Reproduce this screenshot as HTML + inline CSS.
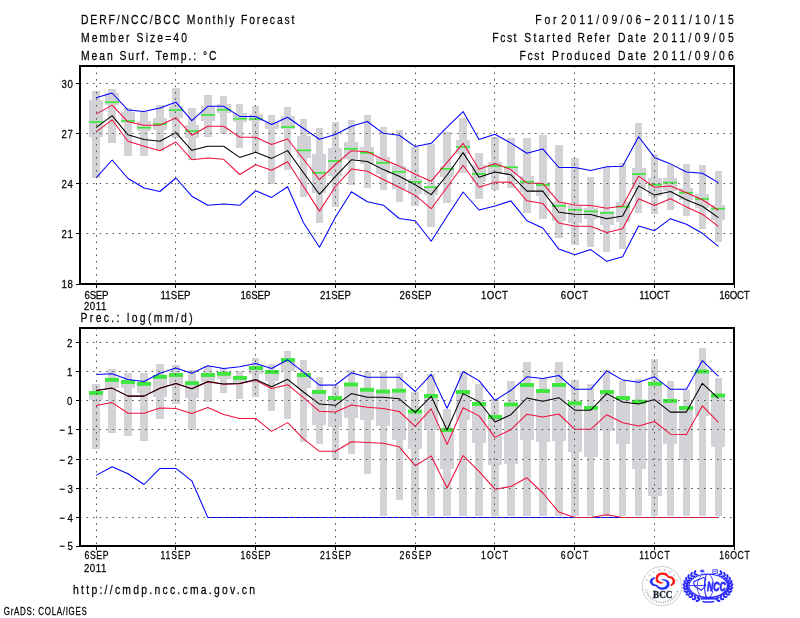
<!DOCTYPE html>
<html><head><meta charset="utf-8"><title>DERF/NCC/BCC Monthly Forecast</title>
<style>html,body{margin:0;padding:0;background:#fff;}body{width:800px;height:618px;overflow:hidden;font-family:"Liberation Sans",sans-serif;}svg{display:block}</style>
</head><body>
<svg width="800" height="618" viewBox="0 0 800 618" font-family="'Liberation Sans', sans-serif" fill="#000">
<rect width="800" height="618" fill="#fff"/>
<rect x="92" y="91" width="8" height="87" fill="#d3d3d7"/>
<rect x="89" y="100" width="14" height="37" fill="#d3d3d7"/>
<rect x="108" y="89" width="8" height="54" fill="#d3d3d7"/>
<rect x="105" y="93" width="14" height="12" fill="#d3d3d7"/>
<rect x="124" y="108" width="8" height="48" fill="#d3d3d7"/>
<rect x="121" y="112" width="14" height="11" fill="#d3d3d7"/>
<rect x="140" y="112" width="8" height="44" fill="#d3d3d7"/>
<rect x="137" y="121" width="14" height="10" fill="#d3d3d7"/>
<rect x="156" y="105" width="8" height="46" fill="#d3d3d7"/>
<rect x="153" y="118" width="14" height="12" fill="#d3d3d7"/>
<rect x="172" y="88" width="8" height="50" fill="#d3d3d7"/>
<rect x="169" y="106" width="14" height="12" fill="#d3d3d7"/>
<rect x="188" y="108" width="8" height="52" fill="#d3d3d7"/>
<rect x="185" y="125" width="14" height="13" fill="#d3d3d7"/>
<rect x="204" y="95" width="8" height="42" fill="#d3d3d7"/>
<rect x="201" y="106" width="14" height="15" fill="#d3d3d7"/>
<rect x="220" y="96" width="7" height="38" fill="#d3d3d7"/>
<rect x="217" y="104" width="14" height="9" fill="#d3d3d7"/>
<rect x="236" y="104" width="7" height="44" fill="#d3d3d7"/>
<rect x="233" y="113" width="14" height="9" fill="#d3d3d7"/>
<rect x="252" y="106" width="7" height="46" fill="#d3d3d7"/>
<rect x="249" y="114" width="14" height="7" fill="#d3d3d7"/>
<rect x="268" y="115" width="7" height="69" fill="#d3d3d7"/>
<rect x="265" y="122" width="14" height="7" fill="#d3d3d7"/>
<rect x="284" y="107" width="7" height="63" fill="#d3d3d7"/>
<rect x="281" y="116" width="14" height="13" fill="#d3d3d7"/>
<rect x="300" y="119" width="7" height="78" fill="#d3d3d7"/>
<rect x="297" y="136" width="14" height="22" fill="#d3d3d7"/>
<rect x="316" y="128" width="7" height="95" fill="#d3d3d7"/>
<rect x="312" y="154" width="14" height="39" fill="#d3d3d7"/>
<rect x="332" y="122" width="7" height="85" fill="#d3d3d7"/>
<rect x="328" y="148" width="14" height="28" fill="#d3d3d7"/>
<rect x="348" y="120" width="7" height="65" fill="#d3d3d7"/>
<rect x="344" y="142" width="14" height="17" fill="#d3d3d7"/>
<rect x="364" y="115" width="7" height="73" fill="#d3d3d7"/>
<rect x="360" y="147" width="14" height="17" fill="#d3d3d7"/>
<rect x="380" y="127" width="7" height="63" fill="#d3d3d7"/>
<rect x="376" y="157" width="14" height="17" fill="#d3d3d7"/>
<rect x="396" y="130" width="7" height="72" fill="#d3d3d7"/>
<rect x="392" y="166" width="14" height="23" fill="#d3d3d7"/>
<rect x="411" y="147" width="8" height="59" fill="#d3d3d7"/>
<rect x="408" y="179" width="14" height="15" fill="#d3d3d7"/>
<rect x="427" y="144" width="8" height="83" fill="#d3d3d7"/>
<rect x="424" y="186" width="14" height="9" fill="#d3d3d7"/>
<rect x="443" y="132" width="8" height="71" fill="#d3d3d7"/>
<rect x="440" y="166" width="14" height="11" fill="#d3d3d7"/>
<rect x="459" y="118" width="8" height="55" fill="#d3d3d7"/>
<rect x="456" y="140" width="14" height="14" fill="#d3d3d7"/>
<rect x="475" y="153" width="8" height="46" fill="#d3d3d7"/>
<rect x="472" y="165" width="14" height="17" fill="#d3d3d7"/>
<rect x="491" y="137" width="8" height="53" fill="#d3d3d7"/>
<rect x="488" y="162" width="14" height="12" fill="#d3d3d7"/>
<rect x="507" y="138" width="8" height="50" fill="#d3d3d7"/>
<rect x="504" y="166" width="14" height="9" fill="#d3d3d7"/>
<rect x="523" y="138" width="8" height="75" fill="#d3d3d7"/>
<rect x="520" y="176" width="14" height="16" fill="#d3d3d7"/>
<rect x="539" y="135" width="8" height="84" fill="#d3d3d7"/>
<rect x="536" y="182" width="14" height="14" fill="#d3d3d7"/>
<rect x="555" y="145" width="8" height="93" fill="#d3d3d7"/>
<rect x="552" y="202" width="14" height="19" fill="#d3d3d7"/>
<rect x="571" y="158" width="8" height="87" fill="#d3d3d7"/>
<rect x="568" y="205" width="14" height="18" fill="#d3d3d7"/>
<rect x="587" y="177" width="7" height="70" fill="#d3d3d7"/>
<rect x="584" y="208" width="14" height="11" fill="#d3d3d7"/>
<rect x="603" y="167" width="7" height="85" fill="#d3d3d7"/>
<rect x="600" y="211" width="14" height="14" fill="#d3d3d7"/>
<rect x="619" y="163" width="7" height="86" fill="#d3d3d7"/>
<rect x="616" y="202" width="14" height="20" fill="#d3d3d7"/>
<rect x="635" y="123" width="7" height="90" fill="#d3d3d7"/>
<rect x="632" y="168" width="14" height="21" fill="#d3d3d7"/>
<rect x="651" y="154" width="7" height="60" fill="#d3d3d7"/>
<rect x="648" y="178" width="14" height="18" fill="#d3d3d7"/>
<rect x="667" y="165" width="7" height="45" fill="#d3d3d7"/>
<rect x="663" y="178" width="14" height="13" fill="#d3d3d7"/>
<rect x="683" y="164" width="7" height="52" fill="#d3d3d7"/>
<rect x="679" y="188" width="14" height="12" fill="#d3d3d7"/>
<rect x="699" y="165" width="7" height="64" fill="#d3d3d7"/>
<rect x="695" y="194" width="14" height="14" fill="#d3d3d7"/>
<rect x="715" y="171" width="7" height="71" fill="#d3d3d7"/>
<rect x="711" y="205" width="14" height="15" fill="#d3d3d7"/>
<rect x="89" y="121.15" width="14" height="1.7" fill="#3ee63e"/>
<rect x="105" y="101.35" width="14" height="1.7" fill="#3ee63e"/>
<rect x="121" y="120.15" width="14" height="1.7" fill="#3ee63e"/>
<rect x="137" y="126.85" width="14" height="1.7" fill="#3ee63e"/>
<rect x="153" y="123.25" width="14" height="1.7" fill="#3ee63e"/>
<rect x="169" y="109.15" width="14" height="1.7" fill="#3ee63e"/>
<rect x="185" y="130.15" width="14" height="1.7" fill="#3ee63e"/>
<rect x="201" y="114.05" width="14" height="1.7" fill="#3ee63e"/>
<rect x="217" y="108.95" width="14" height="1.7" fill="#3ee63e"/>
<rect x="233" y="117.85" width="14" height="1.7" fill="#3ee63e"/>
<rect x="249" y="118.15" width="14" height="1.7" fill="#3ee63e"/>
<rect x="281" y="126.15" width="14" height="1.7" fill="#3ee63e"/>
<rect x="297" y="149.55" width="14" height="1.7" fill="#3ee63e"/>
<rect x="312" y="171.95" width="14" height="1.7" fill="#3ee63e"/>
<rect x="328" y="160.15" width="14" height="1.7" fill="#3ee63e"/>
<rect x="344" y="147.95" width="14" height="1.7" fill="#3ee63e"/>
<rect x="360" y="151.95" width="14" height="1.7" fill="#3ee63e"/>
<rect x="376" y="161.95" width="14" height="1.7" fill="#3ee63e"/>
<rect x="392" y="170.95" width="14" height="1.7" fill="#3ee63e"/>
<rect x="408" y="181.05" width="14" height="1.7" fill="#3ee63e"/>
<rect x="424" y="186.35" width="14" height="1.7" fill="#3ee63e"/>
<rect x="440" y="168.05" width="14" height="1.7" fill="#3ee63e"/>
<rect x="456" y="146.05" width="14" height="1.7" fill="#3ee63e"/>
<rect x="472" y="173.05" width="14" height="1.7" fill="#3ee63e"/>
<rect x="488" y="165.15" width="14" height="1.7" fill="#3ee63e"/>
<rect x="504" y="166.35" width="14" height="1.7" fill="#3ee63e"/>
<rect x="520" y="180.95" width="14" height="1.7" fill="#3ee63e"/>
<rect x="536" y="184.15" width="14" height="1.7" fill="#3ee63e"/>
<rect x="552" y="204.95" width="14" height="1.7" fill="#3ee63e"/>
<rect x="568" y="208.95" width="14" height="1.7" fill="#3ee63e"/>
<rect x="584" y="210.55" width="14" height="1.7" fill="#3ee63e"/>
<rect x="600" y="212.15" width="14" height="1.7" fill="#3ee63e"/>
<rect x="616" y="205.85" width="14" height="1.7" fill="#3ee63e"/>
<rect x="632" y="173.25" width="14" height="1.7" fill="#3ee63e"/>
<rect x="648" y="183.85" width="14" height="1.7" fill="#3ee63e"/>
<rect x="663" y="181.75" width="14" height="1.7" fill="#3ee63e"/>
<rect x="679" y="191.85" width="14" height="1.7" fill="#3ee63e"/>
<rect x="695" y="198.05" width="14" height="1.7" fill="#3ee63e"/>
<rect x="711" y="207.85" width="14" height="1.7" fill="#3ee63e"/>
<polyline points="96.1,177.8 112.1,160.0 128.0,178.5 144.0,188.0 159.9,191.5 175.9,178.0 191.8,196.2 207.8,205.3 223.7,204.0 239.7,205.3 255.7,190.7 271.6,197.4 287.6,186.8 303.5,222.8 319.5,247.2 335.4,217.2 351.4,191.7 367.3,201.7 383.3,205.2 399.2,218.5 415.2,220.7 431.2,241.2 447.1,216.3 463.1,192.0 479.0,210.0 495.0,206.0 510.9,200.8 526.9,220.7 542.8,228.0 558.8,249.1 574.8,254.8 590.7,249.6 606.7,261.3 622.6,256.7 638.6,226.0 654.5,230.7 670.5,218.7 686.4,224.2 702.4,233.3 718.4,246.3" fill="none" stroke="#0000ff" stroke-width="1.05" stroke-linejoin="round"/>
<polyline points="96.1,97.7 112.1,93.0 128.0,110.1 144.0,111.5 159.9,108.1 175.9,102.2 191.8,120.7 207.8,106.3 223.7,106.3 239.7,116.4 255.7,116.5 271.6,124.5 287.6,117.2 303.5,128.5 319.5,139.3 335.4,134.5 351.4,126.3 367.3,121.5 383.3,133.3 399.2,135.2 415.2,146.6 431.2,143.3 447.1,127.1 463.1,111.6 479.0,139.6 495.0,134.3 510.9,143.1 526.9,153.3 542.8,148.9 558.8,167.5 574.8,167.5 590.7,170.4 606.7,166.8 622.6,166.3 638.6,136.7 654.5,157.4 670.5,163.9 686.4,172.0 702.4,173.3 718.4,182.6" fill="none" stroke="#0000ff" stroke-width="1.05" stroke-linejoin="round"/>
<polyline points="96.1,131.8 112.1,119.8 128.0,141.2 144.0,146.3 159.9,150.7 175.9,142.0 191.8,159.7 207.8,158.0 223.7,159.3 239.7,174.5 255.7,164.7 271.6,170.3 287.6,161.7 303.5,186.5 319.5,211.1 335.4,186.5 351.4,169.1 367.3,171.2 383.3,179.5 399.2,187.2 415.2,195.4 431.2,208.7 447.1,187.2 463.1,165.3 479.0,187.2 495.0,182.2 510.9,182.1 526.9,200.8 542.8,203.4 558.8,223.1 574.8,226.3 590.7,226.3 606.7,232.4 622.6,228.8 638.6,198.8 654.5,205.5 670.5,198.8 686.4,206.9 702.4,214.2 718.4,226.3" fill="none" stroke="#f0103c" stroke-width="1.05" stroke-linejoin="round"/>
<polyline points="96.1,114.1 112.1,105.1 128.0,121.8 144.0,125.2 159.9,125.2 175.9,117.8 191.8,135.2 207.8,126.3 223.7,126.3 239.7,137.3 255.7,137.3 271.6,144.4 287.6,139.0 303.5,159.3 319.5,179.7 335.4,164.5 351.4,150.7 367.3,151.7 383.3,159.5 399.2,166.1 415.2,174.2 431.2,181.2 447.1,162.4 463.1,143.3 479.0,169.3 495.0,163.6 510.9,169.6 526.9,183.1 542.8,183.4 558.8,202.1 574.8,204.9 590.7,205.4 606.7,208.2 622.6,206.1 638.6,176.1 654.5,187.2 670.5,185.9 686.4,192.7 702.4,199.7 718.4,210.3" fill="none" stroke="#f0103c" stroke-width="1.05" stroke-linejoin="round"/>
<polyline points="96.1,127.6 112.1,115.7 128.0,134.8 144.0,139.6 159.9,141.2 175.9,132.6 191.8,150.3 207.8,146.2 223.7,146.2 239.7,157.4 255.7,152.3 271.6,158.4 287.6,150.6 303.5,172.7 319.5,194.3 335.4,176.4 351.4,159.8 367.3,161.5 383.3,169.6 399.2,176.3 415.2,184.8 431.2,194.6 447.1,175.0 463.1,152.6 479.0,177.2 495.0,171.9 510.9,174.8 526.9,191.1 542.8,191.1 558.8,212.2 574.8,214.2 590.7,214.4 606.7,218.8 622.6,216.0 638.6,185.9 654.5,195.1 670.5,191.5 686.4,199.7 702.4,206.2 718.4,217.6" fill="none" stroke="#000000" stroke-width="1.05" stroke-linejoin="round"/>
<g stroke="#555" stroke-width="1" stroke-dasharray="1.6 4.9" fill="none"><line x1="96.5" y1="66" x2="96.5" y2="284"/><line x1="175.5" y1="66" x2="175.5" y2="284"/><line x1="255.5" y1="66" x2="255.5" y2="284"/><line x1="335.5" y1="66" x2="335.5" y2="284"/><line x1="415.5" y1="66" x2="415.5" y2="284"/><line x1="494.5" y1="66" x2="494.5" y2="284"/><line x1="574.5" y1="66" x2="574.5" y2="284"/><line x1="654.5" y1="66" x2="654.5" y2="284"/><line x1="80" y1="83.5" x2="734" y2="83.5"/><line x1="80" y1="133.5" x2="734" y2="133.5"/><line x1="80" y1="183.5" x2="734" y2="183.5"/><line x1="80" y1="233.5" x2="734" y2="233.5"/></g>
<rect x="80" y="66" width="654" height="218" fill="none" stroke="#000" stroke-width="2"/>
<g style="opacity:0.999"><line x1="76" y1="83.5" x2="80" y2="83.5" stroke="#000" stroke-width="1"/><text transform="translate(61.4 87.9) scale(0.82 1)" font-size="11.8" textLength="13.9" lengthAdjust="spacing" stroke="#000" stroke-width="0.25">30</text><line x1="76" y1="133.5" x2="80" y2="133.5" stroke="#000" stroke-width="1"/><text transform="translate(61.4 137.9) scale(0.82 1)" font-size="11.8" textLength="13.9" lengthAdjust="spacing" stroke="#000" stroke-width="0.25">27</text><line x1="76" y1="183.5" x2="80" y2="183.5" stroke="#000" stroke-width="1"/><text transform="translate(61.4 187.9) scale(0.82 1)" font-size="11.8" textLength="13.9" lengthAdjust="spacing" stroke="#000" stroke-width="0.25">24</text><line x1="76" y1="233.5" x2="80" y2="233.5" stroke="#000" stroke-width="1"/><text transform="translate(61.4 237.9) scale(0.82 1)" font-size="11.8" textLength="13.9" lengthAdjust="spacing" stroke="#000" stroke-width="0.25">21</text><line x1="76" y1="284.5" x2="80" y2="284.5" stroke="#000" stroke-width="1"/><text transform="translate(61.4 288.4) scale(0.82 1)" font-size="11.8" textLength="13.9" lengthAdjust="spacing" stroke="#000" stroke-width="0.25">18</text><line x1="96.5" y1="284" x2="96.5" y2="288" stroke="#000" stroke-width="1"/><text transform="translate(84.5 298.8) scale(0.82 1)" font-size="11.8" textLength="29.3" lengthAdjust="spacing" stroke="#000" stroke-width="0.25">6SEP</text><line x1="175.5" y1="284" x2="175.5" y2="288" stroke="#000" stroke-width="1"/><text transform="translate(160.5 298.8) scale(0.82 1)" font-size="11.8" textLength="36.6" lengthAdjust="spacing" stroke="#000" stroke-width="0.25">11SEP</text><line x1="255.5" y1="284" x2="255.5" y2="288" stroke="#000" stroke-width="1"/><text transform="translate(240.5 298.8) scale(0.82 1)" font-size="11.8" textLength="36.6" lengthAdjust="spacing" stroke="#000" stroke-width="0.25">16SEP</text><line x1="335.5" y1="284" x2="335.5" y2="288" stroke="#000" stroke-width="1"/><text transform="translate(320.0 298.8) scale(0.82 1)" font-size="11.8" textLength="37.8" lengthAdjust="spacing" stroke="#000" stroke-width="0.25">21SEP</text><line x1="415.5" y1="284" x2="415.5" y2="288" stroke="#000" stroke-width="1"/><text transform="translate(399.5 298.8) scale(0.82 1)" font-size="11.8" textLength="39.0" lengthAdjust="spacing" stroke="#000" stroke-width="0.25">26SEP</text><line x1="494.5" y1="284" x2="494.5" y2="288" stroke="#000" stroke-width="1"/><text transform="translate(481.0 298.8) scale(0.82 1)" font-size="11.8" textLength="32.9" lengthAdjust="spacing" stroke="#000" stroke-width="0.25">1OCT</text><line x1="574.5" y1="284" x2="574.5" y2="288" stroke="#000" stroke-width="1"/><text transform="translate(560.8 298.8) scale(0.82 1)" font-size="11.8" textLength="33.5" lengthAdjust="spacing" stroke="#000" stroke-width="0.25">6OCT</text><line x1="654.5" y1="284" x2="654.5" y2="288" stroke="#000" stroke-width="1"/><text transform="translate(639.3 298.8) scale(0.82 1)" font-size="11.8" textLength="37.1" lengthAdjust="spacing" stroke="#000" stroke-width="0.25">11OCT</text><line x1="734.5" y1="284" x2="734.5" y2="288" stroke="#000" stroke-width="1"/><text transform="translate(719.3 298.8) scale(0.82 1)" font-size="11.8" textLength="37.1" lengthAdjust="spacing" stroke="#000" stroke-width="0.25">16OCT</text><text transform="translate(83.9 310.0) scale(0.82 1)" font-size="11.8" textLength="27.3" lengthAdjust="spacing" stroke="#000" stroke-width="0.25">2011</text></g>
<rect x="92" y="384" width="8" height="65" fill="#d3d3d7"/>
<rect x="89" y="391" width="14" height="9" fill="#d3d3d7"/>
<rect x="108" y="369" width="8" height="64" fill="#d3d3d7"/>
<rect x="105" y="378" width="14" height="10" fill="#d3d3d7"/>
<rect x="124" y="373" width="8" height="63" fill="#d3d3d7"/>
<rect x="121" y="380" width="14" height="8" fill="#d3d3d7"/>
<rect x="140" y="373" width="8" height="68" fill="#d3d3d7"/>
<rect x="137" y="382" width="14" height="11" fill="#d3d3d7"/>
<rect x="156" y="364" width="8" height="55" fill="#d3d3d7"/>
<rect x="153" y="375" width="14" height="22" fill="#d3d3d7"/>
<rect x="172" y="365" width="8" height="39" fill="#d3d3d7"/>
<rect x="169" y="373" width="14" height="11" fill="#d3d3d7"/>
<rect x="188" y="370" width="8" height="60" fill="#d3d3d7"/>
<rect x="185" y="381" width="14" height="17" fill="#d3d3d7"/>
<rect x="204" y="366" width="8" height="36" fill="#d3d3d7"/>
<rect x="201" y="373" width="14" height="9" fill="#d3d3d7"/>
<rect x="220" y="368" width="7" height="25" fill="#d3d3d7"/>
<rect x="217" y="372" width="14" height="7" fill="#d3d3d7"/>
<rect x="236" y="371" width="7" height="28" fill="#d3d3d7"/>
<rect x="233" y="376" width="14" height="7" fill="#d3d3d7"/>
<rect x="252" y="358" width="7" height="39" fill="#d3d3d7"/>
<rect x="249" y="366" width="14" height="8" fill="#d3d3d7"/>
<rect x="268" y="364" width="7" height="47" fill="#d3d3d7"/>
<rect x="265" y="370" width="14" height="11" fill="#d3d3d7"/>
<rect x="284" y="351" width="7" height="68" fill="#d3d3d7"/>
<rect x="281" y="358" width="14" height="13" fill="#d3d3d7"/>
<rect x="300" y="360" width="7" height="82" fill="#d3d3d7"/>
<rect x="297" y="373" width="14" height="15" fill="#d3d3d7"/>
<rect x="316" y="377" width="7" height="67" fill="#d3d3d7"/>
<rect x="312" y="390" width="14" height="35" fill="#d3d3d7"/>
<rect x="332" y="385" width="7" height="75" fill="#d3d3d7"/>
<rect x="328" y="396" width="14" height="31" fill="#d3d3d7"/>
<rect x="348" y="370" width="7" height="84" fill="#d3d3d7"/>
<rect x="344" y="383" width="14" height="35" fill="#d3d3d7"/>
<rect x="364" y="371" width="7" height="103" fill="#d3d3d7"/>
<rect x="360" y="388" width="14" height="32" fill="#d3d3d7"/>
<rect x="380" y="372" width="7" height="144" fill="#d3d3d7"/>
<rect x="376" y="390" width="14" height="36" fill="#d3d3d7"/>
<rect x="396" y="373" width="7" height="127" fill="#d3d3d7"/>
<rect x="392" y="389" width="14" height="51" fill="#d3d3d7"/>
<rect x="411" y="392" width="8" height="124" fill="#d3d3d7"/>
<rect x="408" y="410" width="14" height="39" fill="#d3d3d7"/>
<rect x="427" y="374" width="8" height="142" fill="#d3d3d7"/>
<rect x="424" y="394" width="14" height="36" fill="#d3d3d7"/>
<rect x="443" y="409" width="8" height="107" fill="#d3d3d7"/>
<rect x="440" y="428" width="14" height="41" fill="#d3d3d7"/>
<rect x="459" y="372" width="8" height="144" fill="#d3d3d7"/>
<rect x="456" y="390" width="14" height="30" fill="#d3d3d7"/>
<rect x="475" y="384" width="8" height="132" fill="#d3d3d7"/>
<rect x="472" y="402" width="14" height="41" fill="#d3d3d7"/>
<rect x="491" y="399" width="8" height="117" fill="#d3d3d7"/>
<rect x="488" y="415" width="14" height="50" fill="#d3d3d7"/>
<rect x="507" y="381" width="8" height="135" fill="#d3d3d7"/>
<rect x="504" y="403" width="14" height="61" fill="#d3d3d7"/>
<rect x="523" y="362" width="8" height="154" fill="#d3d3d7"/>
<rect x="520" y="383" width="14" height="57" fill="#d3d3d7"/>
<rect x="539" y="378" width="8" height="138" fill="#d3d3d7"/>
<rect x="536" y="389" width="14" height="53" fill="#d3d3d7"/>
<rect x="555" y="362" width="8" height="154" fill="#d3d3d7"/>
<rect x="552" y="383" width="14" height="58" fill="#d3d3d7"/>
<rect x="571" y="380" width="8" height="136" fill="#d3d3d7"/>
<rect x="568" y="402" width="14" height="50" fill="#d3d3d7"/>
<rect x="587" y="384" width="7" height="132" fill="#d3d3d7"/>
<rect x="584" y="406" width="14" height="51" fill="#d3d3d7"/>
<rect x="603" y="370" width="7" height="146" fill="#d3d3d7"/>
<rect x="600" y="390" width="14" height="41" fill="#d3d3d7"/>
<rect x="619" y="381" width="7" height="135" fill="#d3d3d7"/>
<rect x="616" y="396" width="14" height="48" fill="#d3d3d7"/>
<rect x="635" y="379" width="7" height="137" fill="#d3d3d7"/>
<rect x="632" y="400" width="14" height="69" fill="#d3d3d7"/>
<rect x="651" y="359" width="7" height="157" fill="#d3d3d7"/>
<rect x="648" y="382" width="14" height="114" fill="#d3d3d7"/>
<rect x="667" y="381" width="7" height="135" fill="#d3d3d7"/>
<rect x="663" y="399" width="14" height="45" fill="#d3d3d7"/>
<rect x="683" y="390" width="7" height="126" fill="#d3d3d7"/>
<rect x="679" y="406" width="14" height="54" fill="#d3d3d7"/>
<rect x="699" y="348" width="7" height="168" fill="#d3d3d7"/>
<rect x="695" y="370" width="14" height="46" fill="#d3d3d7"/>
<rect x="715" y="378" width="7" height="138" fill="#d3d3d7"/>
<rect x="711" y="394" width="14" height="53" fill="#d3d3d7"/>
<rect x="89" y="391.05" width="14" height="3.9" fill="#3ee63e"/>
<rect x="105" y="377.85" width="14" height="3.9" fill="#3ee63e"/>
<rect x="121" y="380.05" width="14" height="3.9" fill="#3ee63e"/>
<rect x="137" y="381.95" width="14" height="3.9" fill="#3ee63e"/>
<rect x="153" y="374.95" width="14" height="3.9" fill="#3ee63e"/>
<rect x="169" y="373.05" width="14" height="3.9" fill="#3ee63e"/>
<rect x="185" y="381.15" width="14" height="3.9" fill="#3ee63e"/>
<rect x="201" y="373.05" width="14" height="3.9" fill="#3ee63e"/>
<rect x="217" y="371.85" width="14" height="3.9" fill="#3ee63e"/>
<rect x="233" y="375.95" width="14" height="3.9" fill="#3ee63e"/>
<rect x="249" y="366.05" width="14" height="3.9" fill="#3ee63e"/>
<rect x="265" y="370.05" width="14" height="3.9" fill="#3ee63e"/>
<rect x="281" y="358.05" width="14" height="3.9" fill="#3ee63e"/>
<rect x="297" y="373.05" width="14" height="3.9" fill="#3ee63e"/>
<rect x="312" y="389.95" width="14" height="3.9" fill="#3ee63e"/>
<rect x="328" y="396.05" width="14" height="3.9" fill="#3ee63e"/>
<rect x="344" y="382.55" width="14" height="3.9" fill="#3ee63e"/>
<rect x="360" y="387.85" width="14" height="3.9" fill="#3ee63e"/>
<rect x="376" y="389.55" width="14" height="3.9" fill="#3ee63e"/>
<rect x="392" y="388.75" width="14" height="3.9" fill="#3ee63e"/>
<rect x="408" y="409.55" width="14" height="3.9" fill="#3ee63e"/>
<rect x="424" y="394.05" width="14" height="3.9" fill="#3ee63e"/>
<rect x="440" y="428.05" width="14" height="3.9" fill="#3ee63e"/>
<rect x="456" y="390.05" width="14" height="3.9" fill="#3ee63e"/>
<rect x="472" y="402.05" width="14" height="3.9" fill="#3ee63e"/>
<rect x="488" y="415.05" width="14" height="3.9" fill="#3ee63e"/>
<rect x="504" y="402.55" width="14" height="3.9" fill="#3ee63e"/>
<rect x="520" y="383.05" width="14" height="3.9" fill="#3ee63e"/>
<rect x="536" y="389.05" width="14" height="3.9" fill="#3ee63e"/>
<rect x="552" y="383.05" width="14" height="3.9" fill="#3ee63e"/>
<rect x="568" y="401.35" width="14" height="3.9" fill="#3ee63e"/>
<rect x="584" y="406.05" width="14" height="3.9" fill="#3ee63e"/>
<rect x="600" y="390.05" width="14" height="3.9" fill="#3ee63e"/>
<rect x="616" y="396.05" width="14" height="3.9" fill="#3ee63e"/>
<rect x="632" y="399.75" width="14" height="3.9" fill="#3ee63e"/>
<rect x="648" y="381.85" width="14" height="3.9" fill="#3ee63e"/>
<rect x="663" y="398.95" width="14" height="3.9" fill="#3ee63e"/>
<rect x="679" y="406.05" width="14" height="3.9" fill="#3ee63e"/>
<rect x="695" y="369.55" width="14" height="3.9" fill="#3ee63e"/>
<rect x="711" y="393.55" width="14" height="3.9" fill="#3ee63e"/>
<polyline points="96.1,475.4 112.1,466.8 128.0,473.8 144.0,484.5 159.9,468.4 175.9,468.4 191.8,480.8 207.8,517.4 223.7,517.4 239.7,517.4 255.7,517.4 271.6,517.4 287.6,517.4 303.5,517.4 319.5,517.4 335.4,517.4 351.4,517.4 367.3,517.4 383.3,517.4 399.2,517.4 415.2,517.4 431.2,517.4 447.1,517.4 463.1,517.4 479.0,517.4 495.0,517.4 510.9,517.4 526.9,517.4 542.8,517.4 558.8,517.4 574.8,517.4 590.7,517.4 606.7,517.4 622.6,517.4 638.6,517.4 654.5,517.4 670.5,517.4 686.4,517.4 702.4,517.4 718.4,517.4" fill="none" stroke="#0000ff" stroke-width="1.05" stroke-linejoin="round"/>
<polyline points="96.1,374.5 112.1,373.8 128.0,379.5 144.0,381.5 159.9,373.3 175.9,368.0 191.8,373.3 207.8,365.7 223.7,368.5 239.7,366.8 255.7,363.6 271.6,368.5 287.6,359.8 303.5,372.2 319.5,385.1 335.4,385.0 351.4,372.8 367.3,377.3 383.3,377.3 399.2,377.3 415.2,391.5 431.2,374.4 447.1,408.2 463.1,371.5 479.0,380.6 495.0,400.4 510.9,390.3 526.9,376.8 542.8,378.5 558.8,375.5 574.8,389.3 590.7,389.3 606.7,370.8 622.6,380.1 638.6,382.2 654.5,376.8 670.5,389.3 686.4,389.3 702.4,360.6 718.4,376.3" fill="none" stroke="#0000ff" stroke-width="1.05" stroke-linejoin="round"/>
<polyline points="96.1,405.4 112.1,402.6 128.0,413.2 144.0,413.2 159.9,408.0 175.9,408.6 191.8,413.5 207.8,407.5 223.7,414.5 239.7,418.4 255.7,418.4 271.6,431.4 287.6,422.6 303.5,438.8 319.5,451.3 335.4,451.3 351.4,441.7 367.3,442.4 383.3,443.2 399.2,446.8 415.2,465.7 431.2,455.9 447.1,488.1 463.1,455.6 479.0,471.3 495.0,489.2 510.9,486.5 526.9,477.8 542.8,493.0 558.8,512.0 574.8,517.4 590.7,517.4 606.7,514.8 622.6,517.4 638.6,517.4 654.5,517.4 670.5,517.4 686.4,517.4 702.4,517.4 718.4,517.4" fill="none" stroke="#f0103c" stroke-width="1.05" stroke-linejoin="round"/>
<polyline points="96.1,390.4 112.1,388.1 128.0,396.1 144.0,396.1 159.9,388.3 175.9,383.6 191.8,388.8 207.8,382.0 223.7,384.2 239.7,383.8 255.7,380.3 271.6,388.5 287.6,384.7 303.5,397.7 319.5,411.3 335.4,412.1 351.4,405.0 367.3,407.2 383.3,408.5 399.2,411.5 415.2,426.4 431.2,408.9 447.1,444.4 463.1,407.7 479.0,415.9 495.0,437.4 510.9,429.7 526.9,414.2 542.8,417.0 558.8,414.0 574.8,429.3 590.7,429.3 606.7,414.7 622.6,422.8 638.6,426.1 654.5,421.5 670.5,434.2 686.4,434.6 702.4,405.8 718.4,422.4" fill="none" stroke="#f0103c" stroke-width="1.05" stroke-linejoin="round"/>
<polyline points="96.1,390.4 112.1,388.1 128.0,396.1 144.0,396.1 159.9,388.3 175.9,383.6 191.8,388.8 207.8,381.5 223.7,383.9 239.7,383.6 255.7,379.5 271.6,386.7 287.6,379.3 303.5,392.0 319.5,404.1 335.4,405.3 351.4,393.6 367.3,397.2 383.3,397.2 399.2,398.8 415.2,412.3 431.2,396.3 447.1,430.0 463.1,393.6 479.0,401.7 495.0,422.0 510.9,414.7 526.9,398.0 542.8,401.2 558.8,397.7 574.8,410.2 590.7,410.2 606.7,393.6 622.6,402.0 638.6,404.0 654.5,399.6 670.5,412.1 686.4,412.1 702.4,383.3 718.4,398.3" fill="none" stroke="#000000" stroke-width="1.05" stroke-linejoin="round"/>
<g stroke="#555" stroke-width="1" stroke-dasharray="1.6 4.9" fill="none"><line x1="96.5" y1="328" x2="96.5" y2="546"/><line x1="175.5" y1="328" x2="175.5" y2="546"/><line x1="255.5" y1="328" x2="255.5" y2="546"/><line x1="335.5" y1="328" x2="335.5" y2="546"/><line x1="415.5" y1="328" x2="415.5" y2="546"/><line x1="494.5" y1="328" x2="494.5" y2="546"/><line x1="574.5" y1="328" x2="574.5" y2="546"/><line x1="654.5" y1="328" x2="654.5" y2="546"/><line x1="80" y1="342.5" x2="734" y2="342.5"/><line x1="80" y1="371.5" x2="734" y2="371.5"/><line x1="80" y1="400.5" x2="734" y2="400.5"/><line x1="80" y1="429.5" x2="734" y2="429.5"/><line x1="80" y1="459.5" x2="734" y2="459.5"/><line x1="80" y1="488.5" x2="734" y2="488.5"/><line x1="80" y1="517.5" x2="734" y2="517.5"/></g>
<rect x="80" y="328" width="654" height="218" fill="none" stroke="#000" stroke-width="2"/>
<g style="opacity:0.999"><line x1="76" y1="342.5" x2="80" y2="342.5" stroke="#000" stroke-width="1"/><text transform="translate(67.0 346.9) scale(0.82 1)" font-size="11.8" textLength="7.1" lengthAdjust="spacing" stroke="#000" stroke-width="0.25">2</text><line x1="76" y1="371.5" x2="80" y2="371.5" stroke="#000" stroke-width="1"/><text transform="translate(67.0 375.9) scale(0.82 1)" font-size="11.8" textLength="7.1" lengthAdjust="spacing" stroke="#000" stroke-width="0.25">1</text><line x1="76" y1="400.5" x2="80" y2="400.5" stroke="#000" stroke-width="1"/><text transform="translate(67.0 404.9) scale(0.82 1)" font-size="11.8" textLength="7.1" lengthAdjust="spacing" stroke="#000" stroke-width="0.25">0</text><line x1="76" y1="429.5" x2="80" y2="429.5" stroke="#000" stroke-width="1"/><text transform="translate(59.6 433.9) scale(0.82 1)" font-size="11.8" textLength="16.1" lengthAdjust="spacing" stroke="#000" stroke-width="0.25">−1</text><line x1="76" y1="459.5" x2="80" y2="459.5" stroke="#000" stroke-width="1"/><text transform="translate(59.6 463.9) scale(0.82 1)" font-size="11.8" textLength="16.1" lengthAdjust="spacing" stroke="#000" stroke-width="0.25">−2</text><line x1="76" y1="488.5" x2="80" y2="488.5" stroke="#000" stroke-width="1"/><text transform="translate(59.6 492.9) scale(0.82 1)" font-size="11.8" textLength="16.1" lengthAdjust="spacing" stroke="#000" stroke-width="0.25">−3</text><line x1="76" y1="517.5" x2="80" y2="517.5" stroke="#000" stroke-width="1"/><text transform="translate(59.6 521.9) scale(0.82 1)" font-size="11.8" textLength="16.1" lengthAdjust="spacing" stroke="#000" stroke-width="0.25">−4</text><line x1="76" y1="546.5" x2="80" y2="546.5" stroke="#000" stroke-width="1"/><text transform="translate(59.6 550.4) scale(0.82 1)" font-size="11.8" textLength="16.1" lengthAdjust="spacing" stroke="#000" stroke-width="0.25">−5</text><line x1="96.5" y1="546" x2="96.5" y2="550" stroke="#000" stroke-width="1"/><text transform="translate(84.5 559.3) scale(0.82 1)" font-size="10.6" textLength="29.3" lengthAdjust="spacing" stroke="#000" stroke-width="0.25">6SEP</text><line x1="175.5" y1="546" x2="175.5" y2="550" stroke="#000" stroke-width="1"/><text transform="translate(160.5 559.3) scale(0.82 1)" font-size="10.6" textLength="36.6" lengthAdjust="spacing" stroke="#000" stroke-width="0.25">11SEP</text><line x1="255.5" y1="546" x2="255.5" y2="550" stroke="#000" stroke-width="1"/><text transform="translate(240.5 559.3) scale(0.82 1)" font-size="10.6" textLength="36.6" lengthAdjust="spacing" stroke="#000" stroke-width="0.25">16SEP</text><line x1="335.5" y1="546" x2="335.5" y2="550" stroke="#000" stroke-width="1"/><text transform="translate(320.0 559.3) scale(0.82 1)" font-size="10.6" textLength="37.8" lengthAdjust="spacing" stroke="#000" stroke-width="0.25">21SEP</text><line x1="415.5" y1="546" x2="415.5" y2="550" stroke="#000" stroke-width="1"/><text transform="translate(399.5 559.3) scale(0.82 1)" font-size="10.6" textLength="39.0" lengthAdjust="spacing" stroke="#000" stroke-width="0.25">26SEP</text><line x1="494.5" y1="546" x2="494.5" y2="550" stroke="#000" stroke-width="1"/><text transform="translate(481.0 559.3) scale(0.82 1)" font-size="10.6" textLength="32.9" lengthAdjust="spacing" stroke="#000" stroke-width="0.25">1OCT</text><line x1="574.5" y1="546" x2="574.5" y2="550" stroke="#000" stroke-width="1"/><text transform="translate(560.8 559.3) scale(0.82 1)" font-size="10.6" textLength="33.5" lengthAdjust="spacing" stroke="#000" stroke-width="0.25">6OCT</text><line x1="654.5" y1="546" x2="654.5" y2="550" stroke="#000" stroke-width="1"/><text transform="translate(639.3 559.3) scale(0.82 1)" font-size="10.6" textLength="37.1" lengthAdjust="spacing" stroke="#000" stroke-width="0.25">11OCT</text><line x1="734.5" y1="546" x2="734.5" y2="550" stroke="#000" stroke-width="1"/><text transform="translate(719.3 559.3) scale(0.82 1)" font-size="10.6" textLength="37.1" lengthAdjust="spacing" stroke="#000" stroke-width="0.25">16OCT</text><text transform="translate(83.9 572.0) scale(0.82 1)" font-size="11.8" textLength="27.3" lengthAdjust="spacing" stroke="#000" stroke-width="0.25">2011</text></g>
<g id="txt" style="opacity:0.999"><text transform="translate(81 24) scale(0.78 1)" font-size="13.3" textLength="273.7" lengthAdjust="spacing" stroke="#000" stroke-width="0.25">DERF/NCC/BCC Monthly Forecast</text><text transform="translate(81 42.2) scale(0.78 1)" font-size="13.3" textLength="135.9" lengthAdjust="spacing" stroke="#000" stroke-width="0.25">Member Size=40</text><text transform="translate(81 60.2) scale(0.78 1)" font-size="13.3" textLength="173.7" lengthAdjust="spacing" stroke="#000" stroke-width="0.25">Mean Surf. Temp.: °C</text><text transform="translate(535.2 24) scale(0.78 1)" font-size="13.3" textLength="27.4" lengthAdjust="spacing" stroke="#000" stroke-width="0.25">For</text><text transform="translate(561.2 24) scale(0.78 1)" font-size="13.3" textLength="221.3" lengthAdjust="spacing" stroke="#000" stroke-width="0.25">2011/09/06−2011/10/15</text><text transform="translate(492.3 42.3) scale(0.78 1)" font-size="13.3" textLength="31.0" lengthAdjust="spacing" stroke="#000" stroke-width="0.25">Fcst</text><text transform="translate(524.3 42.3) scale(0.78 1)" font-size="13.3" textLength="60.0" lengthAdjust="spacing" stroke="#000" stroke-width="0.25">Started</text><text transform="translate(577.5 42.3) scale(0.78 1)" font-size="13.3" textLength="41.7" lengthAdjust="spacing" stroke="#000" stroke-width="0.25">Refer</text><text transform="translate(618.1 42.3) scale(0.78 1)" font-size="13.3" textLength="35.9" lengthAdjust="spacing" stroke="#000" stroke-width="0.25">Date</text><text transform="translate(653.2 42.3) scale(0.78 1)" font-size="13.3" textLength="103.3" lengthAdjust="spacing" stroke="#000" stroke-width="0.25">2011/09/05</text><text transform="translate(519.6 60.4) scale(0.78 1)" font-size="13.3" textLength="31.0" lengthAdjust="spacing" stroke="#000" stroke-width="0.25">Fcst</text><text transform="translate(552.1 60.4) scale(0.78 1)" font-size="13.3" textLength="74.7" lengthAdjust="spacing" stroke="#000" stroke-width="0.25">Produced</text><text transform="translate(618.1 60.4) scale(0.78 1)" font-size="13.3" textLength="35.9" lengthAdjust="spacing" stroke="#000" stroke-width="0.25">Date</text><text transform="translate(653.2 60.4) scale(0.78 1)" font-size="13.3" textLength="103.3" lengthAdjust="spacing" stroke="#000" stroke-width="0.25">2011/09/06</text><text transform="translate(80.6 322) scale(0.78 1)" font-size="13.3" textLength="143.6" lengthAdjust="spacing" stroke="#000" stroke-width="0.25">Prec.: log(mm/d)</text><text transform="translate(73.1 594.4) scale(0.78 1)" font-size="13.3" textLength="233.3" lengthAdjust="spacing" stroke="#000" stroke-width="0.25">http://cmdp.ncc.cma.gov.cn</text><text transform="translate(3.8 615) scale(0.78 1)" font-size="10.2" textLength="106.4" lengthAdjust="spacing" stroke="#000" stroke-width="0.25">GrADS: COLA/IGES</text></g>
<g id="bcc">
<circle cx="662" cy="586.2" r="19.7" fill="#fff" stroke="#cdcdcd" stroke-width="1"/>
<path d="M646.6,580.6 A16.4,16.4 0 0 1 677.4,580.6" fill="none" stroke="#9a9a9a" stroke-width="1.8" stroke-dasharray="1.3 4.2" opacity="0.6"/>
<path d="M646,589.6 A16.4,16.4 0 0 0 678,589.6" fill="none" stroke="#8a8a8a" stroke-width="2.3" stroke-dasharray="1 1.3" opacity="0.6"/>
<path d="M663.15,583.20 C662.58,583.37 660.69,583.74 659.58,583.49 C658.46,583.25 657.12,582.60 656.45,581.71 C655.78,580.82 655.46,579.35 655.56,578.14 C655.66,576.92 656.11,575.36 657.05,574.42 C657.99,573.47 659.73,572.71 661.21,572.48 C662.70,572.26 664.69,572.51 665.98,573.08 C667.27,573.65 667.89,575.31 668.95,575.90 C670.02,576.50 671.36,575.97 672.38,576.65 C673.39,577.33 674.71,578.82 675.05,580.00 C675.40,581.18 675.05,582.74 674.46,583.72 C673.86,584.70 672.15,585.64 671.48,585.88 C670.81,586.11 670.32,585.65 670.44,585.13 C670.56,584.61 671.88,583.61 672.23,582.75 C672.57,581.89 672.77,580.72 672.52,580.00 C672.28,579.28 671.48,578.79 670.74,578.43 C669.99,578.07 668.93,578.34 668.06,577.84 C667.19,577.34 666.62,575.95 665.53,575.46 C664.44,574.96 662.63,574.69 661.51,574.86 C660.40,575.04 659.40,575.77 658.83,576.50 C658.26,577.23 657.97,578.41 658.09,579.25 C658.21,580.10 658.76,581.03 659.58,581.56 C660.40,582.09 662.40,582.18 663.00,582.45 C663.60,582.73 663.72,583.02 663.15,583.20Z" fill="#ff1616"/>
<path d="M661.96,579.18 C662.60,579.10 664.81,579.18 665.98,579.62 C667.14,580.07 668.38,580.87 668.95,581.86 C669.52,582.85 669.77,584.44 669.40,585.58 C669.03,586.72 667.99,588.01 666.72,588.70 C665.46,589.40 663.27,589.82 661.81,589.74 C660.35,589.67 658.88,588.80 657.94,588.26 C657.00,587.71 657.02,586.89 656.15,586.47 C655.29,586.05 653.77,586.37 652.73,585.73 C651.69,585.08 650.25,583.68 649.90,582.60 C649.56,581.52 649.95,580.15 650.65,579.25 C651.34,578.36 653.35,577.43 654.07,577.24 C654.79,577.06 655.16,577.67 654.96,578.14 C654.77,578.61 653.28,579.38 652.88,580.07 C652.48,580.77 652.38,581.63 652.58,582.30 C652.78,582.97 653.25,583.62 654.07,584.09 C654.89,584.56 656.58,584.63 657.49,585.13 C658.41,585.63 658.73,586.67 659.58,587.07 C660.42,587.46 661.51,587.69 662.55,587.51 C663.60,587.34 665.13,586.72 665.83,586.02 C666.52,585.33 666.84,584.16 666.72,583.35 C666.60,582.53 665.85,581.66 665.08,581.11 C664.31,580.57 662.63,580.39 662.11,580.07 C661.59,579.75 661.31,579.25 661.96,579.18Z" fill="#2233ff"/>
<text x="662.7" y="597.7" text-anchor="middle" font-family="'Liberation Serif', serif" font-weight="bold" font-size="10" fill="#18202c" stroke="#18202c" stroke-width="0.3" textLength="19.4" lengthAdjust="spacingAndGlyphs">BCC</text>
</g>
<g id="ncc">
<g fill="#2a2aff"><ellipse cx="694.91" cy="572.08" rx="2.3" ry="1.1" transform="rotate(-62.3 694.91 572.08)"/><ellipse cx="696.02" cy="574.54" rx="2.3" ry="1.1" transform="rotate(13.7 696.02 574.54)"/><ellipse cx="691.43" cy="574.00" rx="2.3" ry="1.1" transform="rotate(-71.7 691.43 574.00)"/><ellipse cx="692.92" cy="576.25" rx="2.3" ry="1.1" transform="rotate(4.3 692.92 576.25)"/><ellipse cx="688.50" cy="576.36" rx="2.3" ry="1.1" transform="rotate(-82.5 688.50 576.36)"/><ellipse cx="690.39" cy="578.28" rx="2.3" ry="1.1" transform="rotate(-6.5 690.39 578.28)"/><ellipse cx="686.25" cy="579.10" rx="2.3" ry="1.1" transform="rotate(-95.2 686.25 579.10)"/><ellipse cx="688.52" cy="580.56" rx="2.3" ry="1.1" transform="rotate(-19.2 688.52 580.56)"/><ellipse cx="684.79" cy="582.14" rx="2.3" ry="1.1" transform="rotate(-109.8 684.79 582.14)"/><ellipse cx="687.36" cy="582.98" rx="2.3" ry="1.1" transform="rotate(-33.8 687.36 582.98)"/><ellipse cx="684.21" cy="585.36" rx="2.3" ry="1.1" transform="rotate(-125.8 684.21 585.36)"/><ellipse cx="686.91" cy="585.47" rx="2.3" ry="1.1" transform="rotate(-49.8 686.91 585.47)"/><ellipse cx="684.55" cy="588.61" rx="2.3" ry="1.1" transform="rotate(-142.0 684.55 588.61)"/><ellipse cx="687.17" cy="587.96" rx="2.3" ry="1.1" transform="rotate(-66.0 687.17 587.96)"/><ellipse cx="685.78" cy="591.71" rx="2.3" ry="1.1" transform="rotate(-157.1 685.78 591.71)"/><ellipse cx="688.14" cy="590.40" rx="2.3" ry="1.1" transform="rotate(-81.1 688.14 590.40)"/><ellipse cx="687.83" cy="594.54" rx="2.3" ry="1.1" transform="rotate(-170.3 687.83 594.54)"/><ellipse cx="689.83" cy="592.73" rx="2.3" ry="1.1" transform="rotate(-94.3 689.83 592.73)"/><ellipse cx="690.59" cy="597.01" rx="2.3" ry="1.1" transform="rotate(-181.6 690.59 597.01)"/><ellipse cx="692.19" cy="594.84" rx="2.3" ry="1.1" transform="rotate(-105.6 692.19 594.84)"/><ellipse cx="693.94" cy="599.05" rx="2.3" ry="1.1" transform="rotate(-191.4 693.94 599.05)"/><ellipse cx="695.15" cy="596.64" rx="2.3" ry="1.1" transform="rotate(-115.4 695.15 596.64)"/><ellipse cx="697.76" cy="600.62" rx="2.3" ry="1.1" transform="rotate(-200.0 697.76 600.62)"/><ellipse cx="698.60" cy="598.05" rx="2.3" ry="1.1" transform="rotate(-124.0 698.60 598.05)"/><ellipse cx="721.09" cy="572.08" rx="2.3" ry="1.1" transform="rotate(62.3 721.09 572.08)"/><ellipse cx="719.98" cy="574.54" rx="2.3" ry="1.1" transform="rotate(-13.7 719.98 574.54)"/><ellipse cx="724.57" cy="574.00" rx="2.3" ry="1.1" transform="rotate(71.7 724.57 574.00)"/><ellipse cx="723.08" cy="576.25" rx="2.3" ry="1.1" transform="rotate(-4.3 723.08 576.25)"/><ellipse cx="727.50" cy="576.36" rx="2.3" ry="1.1" transform="rotate(82.5 727.50 576.36)"/><ellipse cx="725.61" cy="578.28" rx="2.3" ry="1.1" transform="rotate(6.5 725.61 578.28)"/><ellipse cx="729.75" cy="579.10" rx="2.3" ry="1.1" transform="rotate(95.2 729.75 579.10)"/><ellipse cx="727.48" cy="580.56" rx="2.3" ry="1.1" transform="rotate(19.2 727.48 580.56)"/><ellipse cx="731.21" cy="582.14" rx="2.3" ry="1.1" transform="rotate(109.8 731.21 582.14)"/><ellipse cx="728.64" cy="582.98" rx="2.3" ry="1.1" transform="rotate(33.8 728.64 582.98)"/><ellipse cx="731.79" cy="585.36" rx="2.3" ry="1.1" transform="rotate(125.8 731.79 585.36)"/><ellipse cx="729.09" cy="585.47" rx="2.3" ry="1.1" transform="rotate(49.8 729.09 585.47)"/><ellipse cx="731.45" cy="588.61" rx="2.3" ry="1.1" transform="rotate(142.0 731.45 588.61)"/><ellipse cx="728.83" cy="587.96" rx="2.3" ry="1.1" transform="rotate(66.0 728.83 587.96)"/><ellipse cx="730.22" cy="591.71" rx="2.3" ry="1.1" transform="rotate(157.1 730.22 591.71)"/><ellipse cx="727.86" cy="590.40" rx="2.3" ry="1.1" transform="rotate(81.1 727.86 590.40)"/><ellipse cx="728.17" cy="594.54" rx="2.3" ry="1.1" transform="rotate(170.3 728.17 594.54)"/><ellipse cx="726.17" cy="592.73" rx="2.3" ry="1.1" transform="rotate(94.3 726.17 592.73)"/><ellipse cx="725.41" cy="597.01" rx="2.3" ry="1.1" transform="rotate(181.6 725.41 597.01)"/><ellipse cx="723.81" cy="594.84" rx="2.3" ry="1.1" transform="rotate(105.6 723.81 594.84)"/><ellipse cx="722.06" cy="599.05" rx="2.3" ry="1.1" transform="rotate(191.4 722.06 599.05)"/><ellipse cx="720.85" cy="596.64" rx="2.3" ry="1.1" transform="rotate(115.4 720.85 596.64)"/><ellipse cx="718.24" cy="600.62" rx="2.3" ry="1.1" transform="rotate(200.0 718.24 600.62)"/><ellipse cx="717.40" cy="598.05" rx="2.3" ry="1.1" transform="rotate(124.0 717.40 598.05)"/></g>
<g fill="none" stroke="#2a2aff">
<ellipse cx="708.2" cy="585.8" rx="19.3" ry="11.7" stroke-width="1.3"/>
<path d="M689.2,585.5 H706" stroke-width="0.9"/>
<path d="M706.4,574.4 C703.8,581 703.8,591 706.4,597.2" stroke-width="1.1"/>
<path d="M709.5,574.3 C711.8,577 712.6,579.5 712.8,581" stroke-width="0.9"/>
<path d="M709.5,597.3 C711.8,595 712.6,592.5 712.8,591" stroke-width="0.9"/>
<path d="M701,576 C696.4,580 695.6,591 700.6,596" stroke-width="0.8"/>
<path d="M693.6,582 L696.5,580.2 L700,579.3 L703.5,577.6 L705.8,578.8 L704.6,582.4 L705.6,585.6 L703.6,588.2 L701.2,590.2 L698.8,588.6 L696,587.6 L694.2,585.4 Z" stroke-width="1.1"/>
<path d="M700.6,598.7 H716.2" stroke-width="1.8"/>
<path d="M702.5,601.4 Q708.3,602.8 714.2,601.4" stroke-width="1.5"/>
<path d="M699.8,571.4 H704.2 M702,569.3 V573.8 M700.2,570.4 H703.8 V572.5" stroke-width="0.8"/>
<path d="M712.8,569.7 H717.4 V573.5 H712.8 Z M713.8,571.6 H716.4" stroke-width="0.8"/>
</g>
<text x="707" y="590.9" font-family="'Liberation Sans', sans-serif" font-weight="bold" font-style="italic" font-size="13.4" fill="#2a2aff" stroke="#2a2aff" stroke-width="0.9" textLength="18.6" lengthAdjust="spacingAndGlyphs">NCC</text>
</g>
</svg>
</body></html>
